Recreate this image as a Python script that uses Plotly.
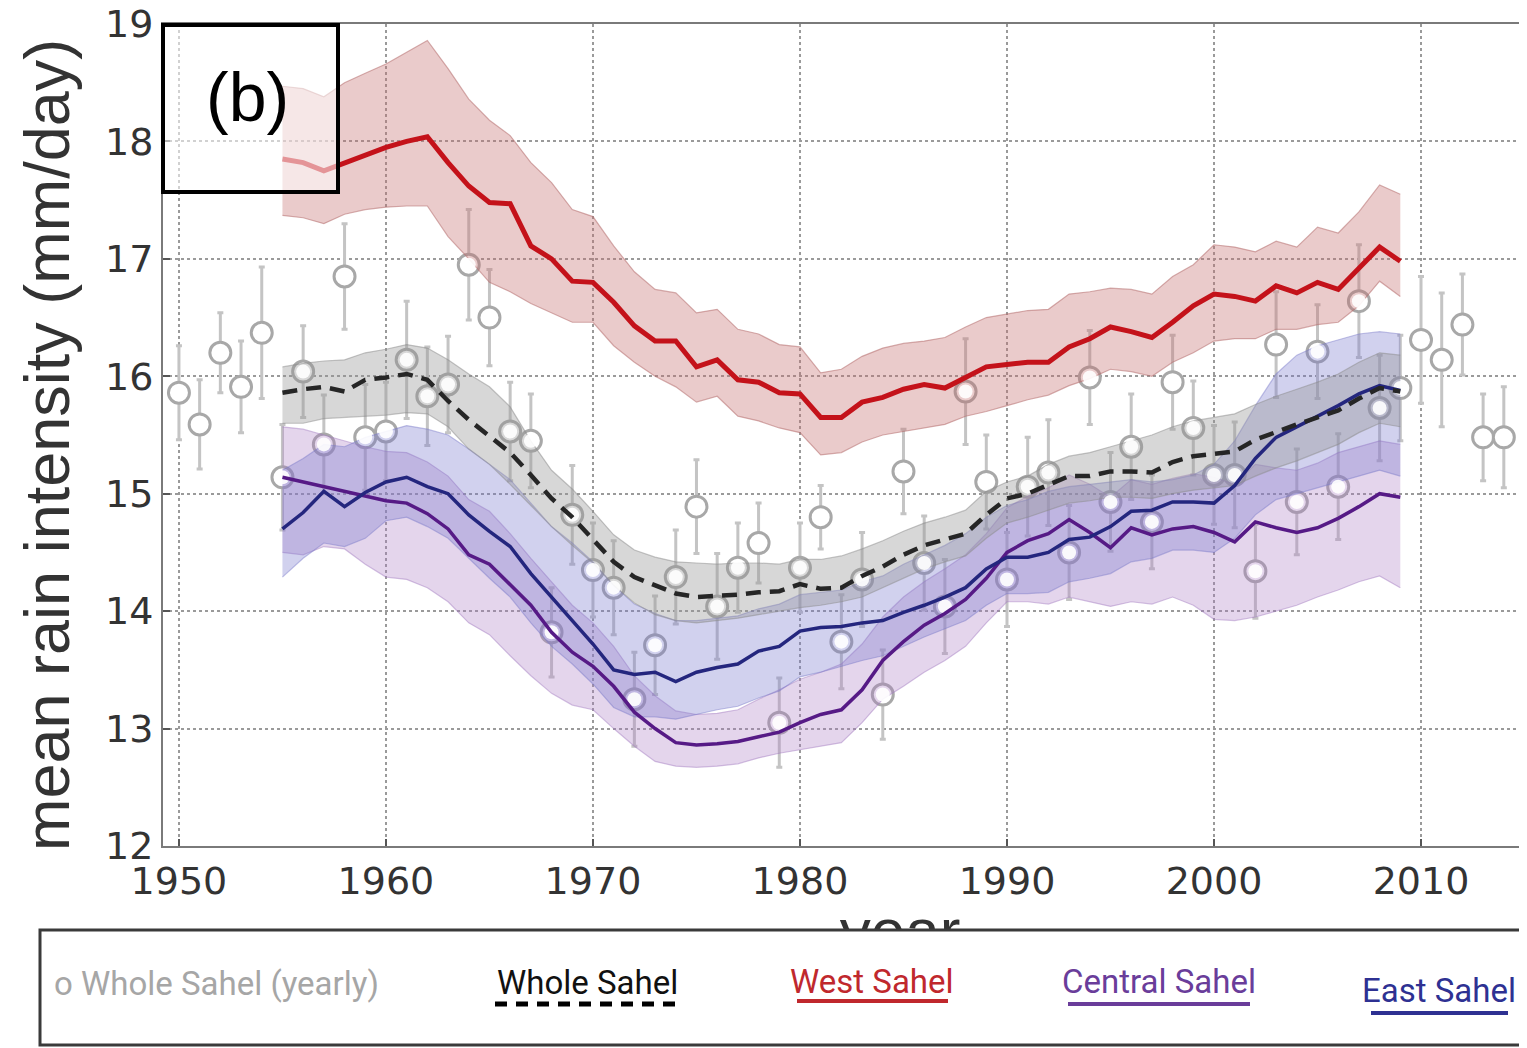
import plotly.graph_objects as go

# The page draws the figure 8 px in from the top-left corner, so all target pixel
# positions are mapped through OFF.
OFF = 8
FW, FH = 1519, 1040

# ---------------- data ----------------
yearly_years = list(range(1950, 2015))
yearly_vals = [15.86, 15.59, 16.20, 15.91, 16.37, 15.14, 16.04, 15.42, 16.85, 15.48,
               15.53, 16.14, 15.83, 15.93, 16.95, 16.50, 15.53, 15.45, 13.82, 14.82,
               14.35, 14.20, 13.25, 13.71, 14.29, 14.89, 14.04, 14.37, 14.58, 13.05,
               14.37, 14.80, 13.74, 14.27, 13.29, 15.19, 14.41, 14.04, 15.87, 15.10,
               14.27, 15.06, 15.18, 14.50, 15.99, 14.93, 15.40, 14.76, 15.95, 15.56,
               15.16, 15.16, 14.34, 16.27, 14.93, 16.21, 15.06, 16.64, 15.73, 15.90,
               16.31, 16.14, 16.44, 15.48, 15.48]
yearly_err = [0.40, 0.38, 0.34, 0.39, 0.56, 0.45, 0.39, 0.42, 0.45, 0.45,
              0.42, 0.50, 0.42, 0.41, 0.47, 0.41, 0.42, 0.40, 0.38, 0.42,
              0.40, 0.40, 0.40, 0.42, 0.40, 0.40, 0.45, 0.38, 0.34, 0.38,
              0.38, 0.27, 0.40, 0.40, 0.38, 0.36, 0.40, 0.40, 0.45, 0.40,
              0.40, 0.42, 0.45, 0.40, 0.40, 0.42, 0.45, 0.40, 0.40, 0.40,
              0.42, 0.45, 0.40, 0.45, 0.45, 0.40, 0.45, 0.48, 0.45, 0.45,
              0.54, 0.57, 0.43, 0.37, 0.43]

run_years = list(range(1955, 2010))

west_mean = [17.85, 17.82, 17.75, 17.82, 17.89, 17.95, 18.00, 18.04, 17.82, 17.62,
             17.48, 17.47, 17.11, 17.00, 16.81, 16.80, 16.63, 16.43, 16.30, 16.30,
             16.08, 16.14, 15.97, 15.95, 15.86, 15.85, 15.65, 15.65, 15.78, 15.82,
             15.89, 15.93, 15.90, 15.99, 16.08, 16.10, 16.12, 16.12, 16.25, 16.32,
             16.42, 16.38, 16.33, 16.46, 16.60, 16.70, 16.68, 16.64, 16.77, 16.71,
             16.80, 16.74, 16.92, 17.10, 16.98]
west_upper = [18.47, 18.45, 18.38, 18.50, 18.58, 18.66, 18.76, 18.86, 18.62, 18.36,
              18.18, 18.05, 17.82, 17.65, 17.42, 17.36, 17.11, 16.89, 16.74, 16.71,
              16.54, 16.57, 16.40, 16.36, 16.27, 16.25, 16.03, 16.06, 16.17, 16.24,
              16.28, 16.30, 16.33, 16.42, 16.50, 16.53, 16.56, 16.57, 16.70, 16.72,
              16.75, 16.74, 16.70, 16.85, 16.95, 17.12, 17.10, 17.06, 17.15, 17.10,
              17.27, 17.22, 17.40, 17.63, 17.55]
west_lower = [17.37, 17.35, 17.30, 17.38, 17.42, 17.44, 17.45, 17.45, 17.19, 17.00,
              16.80, 16.72, 16.62, 16.54, 16.46, 16.46, 16.26, 16.12, 16.00, 15.91,
              15.78, 15.83, 15.66, 15.62, 15.56, 15.52, 15.33, 15.35, 15.44, 15.50,
              15.53, 15.56, 15.59, 15.66, 15.70, 15.75, 15.80, 15.84, 15.92, 15.98,
              16.06, 16.04, 16.00, 16.12, 16.20, 16.30, 16.32, 16.32, 16.40, 16.40,
              16.44, 16.46, 16.60, 16.81, 16.68]

whole_mean = [15.86, 15.89, 15.91, 15.87, 15.97, 15.99, 16.02, 15.97, 15.79, 15.63,
              15.49, 15.35, 15.16, 14.96, 14.80, 14.61, 14.42, 14.29, 14.22, 14.15,
              14.12, 14.13, 14.14, 14.16, 14.17, 14.23, 14.19, 14.20, 14.30, 14.38,
              14.48, 14.56, 14.61, 14.66, 14.82, 14.96, 15.00, 15.08, 15.15, 15.15,
              15.19, 15.19, 15.18, 15.27, 15.32, 15.34, 15.36, 15.46, 15.53, 15.59,
              15.65, 15.71, 15.81, 15.90, 15.87]
whole_upper = [16.08, 16.11, 16.13, 16.14, 16.20, 16.23, 16.27, 16.24, 16.14, 16.02,
               15.91, 15.74, 15.45, 15.20, 15.04, 14.85, 14.65, 14.52, 14.46, 14.42,
               14.41, 14.40, 14.41, 14.41, 14.40, 14.44, 14.44, 14.47, 14.53, 14.60,
               14.68, 14.75, 14.80, 14.86, 15.02, 15.10, 15.15, 15.25, 15.32, 15.35,
               15.40, 15.45, 15.50, 15.57, 15.62, 15.65, 15.68, 15.76, 15.83, 15.89,
               15.95, 16.02, 16.12, 16.20, 16.18]
whole_lower = [15.60, 15.60, 15.64, 15.65, 15.66, 15.67, 15.69, 15.68, 15.57, 15.38,
               15.25, 15.08, 14.90, 14.72, 14.56, 14.41, 14.22, 14.07, 13.97, 13.92,
               13.90, 13.92, 13.94, 13.97, 14.00, 14.03, 14.05, 14.08, 14.12, 14.20,
               14.28, 14.36, 14.42, 14.47, 14.62, 14.75, 14.80, 14.86, 14.92, 14.94,
               14.97, 14.97, 14.96, 15.00, 15.03, 15.05, 15.07, 15.15, 15.22, 15.28,
               15.35, 15.42, 15.52, 15.60, 15.57]

central_mean = [15.14, 15.10, 15.06, 15.02, 14.98, 14.94, 14.92, 14.83, 14.70, 14.48,
                14.40, 14.22, 14.05, 13.82, 13.65, 13.53, 13.36, 13.14, 13.00, 12.88,
                12.86, 12.87, 12.89, 12.93, 12.97, 13.05, 13.12, 13.16, 13.33, 13.58,
                13.74, 13.88, 13.98, 14.10, 14.28, 14.50, 14.60, 14.66, 14.78, 14.67,
                14.54, 14.71, 14.65, 14.70, 14.72, 14.67, 14.59, 14.76, 14.71, 14.67,
                14.71, 14.79, 14.89, 15.00, 14.97]
central_upper = [15.57, 15.55, 15.50, 15.45, 15.40, 15.36, 15.35, 15.27, 15.15, 14.95,
                 14.85, 14.66, 14.45, 14.25, 14.05, 13.90, 13.70, 13.45, 13.28, 13.15,
                 13.12, 13.13, 13.16, 13.25, 13.33, 13.42, 13.48, 13.55, 13.72, 13.95,
                 14.12, 14.25, 14.36, 14.48, 14.66, 14.88, 14.98, 15.05, 15.16, 15.08,
                 14.97, 15.12, 15.08, 15.13, 15.17, 15.14, 15.08, 15.25, 15.22, 15.20,
                 15.26, 15.35, 15.40, 15.45, 15.42]
central_lower = [14.50, 14.48, 14.55, 14.53, 14.40, 14.29, 14.27, 14.20, 14.08, 13.90,
                 13.80, 13.62, 13.45, 13.30, 13.20, 13.16, 13.00, 12.85, 12.72, 12.68,
                 12.67, 12.68, 12.70, 12.75, 12.79, 12.82, 12.85, 12.88, 13.05, 13.25,
                 13.36, 13.48, 13.58, 13.70, 13.90, 14.08, 14.08, 14.06, 14.12, 14.08,
                 14.04, 14.08, 14.06, 14.12, 14.05, 13.93, 13.92, 13.95, 14.00, 14.05,
                 14.12, 14.18, 14.25, 14.30, 14.20]

east_mean = [14.70, 14.84, 15.02, 14.89, 15.01, 15.10, 15.14, 15.06, 15.00, 14.82,
             14.68, 14.55, 14.32, 14.12, 13.92, 13.72, 13.50, 13.46, 13.48, 13.40,
             13.48, 13.52, 13.55, 13.66, 13.70, 13.83, 13.86, 13.87, 13.90, 13.92,
             13.99, 14.05, 14.12, 14.20, 14.36, 14.46, 14.46, 14.50, 14.61, 14.63,
             14.72, 14.85, 14.86, 14.93, 14.93, 14.92, 15.07, 15.30, 15.48, 15.57,
             15.66, 15.75, 15.85, 15.92, 15.88]
east_upper = [15.20, 15.30, 15.42, 15.40, 15.48, 15.53, 15.58, 15.55, 15.50, 15.38,
              15.25, 15.12, 14.92, 14.72, 14.58, 14.42, 14.22, 14.06, 13.98, 13.92,
              13.92, 13.94, 13.96, 14.02, 14.06, 14.14, 14.16, 14.18, 14.25, 14.30,
              14.40, 14.48, 14.56, 14.66, 14.80, 14.90, 14.95, 15.02, 15.06, 15.08,
              15.10, 15.12, 15.10, 15.12, 15.16, 15.25, 15.45, 15.75, 16.02, 16.18,
              16.26, 16.31, 16.36, 16.38, 16.36]
east_lower = [14.29, 14.45, 14.58, 14.55, 14.62, 14.77, 14.80, 14.72, 14.62, 14.45,
              14.28, 14.12, 13.90, 13.70, 13.55, 13.38, 13.18, 13.10, 13.10, 13.08,
              13.12, 13.16, 13.19, 13.26, 13.32, 13.44, 13.48, 13.53, 13.58, 13.62,
              13.70, 13.78, 13.85, 13.92, 14.05, 14.15, 14.15, 14.16, 14.25, 14.28,
              14.32, 14.42, 14.45, 14.52, 14.52, 14.50, 14.62, 14.82, 14.95, 15.00,
              15.05, 15.10, 15.15, 15.20, 15.15]

x_ticks = [1950, 1960, 1970, 1980, 1990, 2000, 2010]
y_ticks = [12, 13, 14, 15, 16, 17, 18, 19]

legend_labels = ["o Whole Sahel (yearly)", "Whole Sahel", "West Sahel", "Central Sahel", "East Sahel"]

for arr in [west_mean, west_upper, west_lower, whole_mean, whole_upper, whole_lower,
            central_mean, central_upper, central_lower, east_mean, east_upper, east_lower]:
    assert len(arr) == len(run_years), len(arr)
assert len(yearly_vals) == len(yearly_years) == len(yearly_err)

# ---------------- styling ----------------
RED = "#c4121a"
NAVY = "#24267e"
PURPLE = "#561a86"


def px(x):
    return (x - OFF) / FW


def py(y):
    return 1 - (y - OFF) / FH


fig = go.Figure()

# yearly points below the bands (outlined)
fig.add_trace(go.Scatter(
    x=yearly_years, y=yearly_vals, mode="markers",
    error_y=dict(type="data", array=yearly_err, color="#c4c4c4", thickness=3, width=3),
    marker=dict(size=21, color="white", line=dict(color="#a8a8a8", width=3)),
    showlegend=False, hoverinfo="skip"))


def band(upper, lower, fill, edge):
    fig.add_trace(go.Scatter(x=run_years, y=upper, mode="lines",
                             line=dict(color=edge, width=1.2), showlegend=False, hoverinfo="skip"))
    fig.add_trace(go.Scatter(x=run_years, y=lower, mode="lines", fill="tonexty", fillcolor=fill,
                             line=dict(color=edge, width=1.2), showlegend=False, hoverinfo="skip"))


band(west_upper, west_lower, "rgba(196,110,110,0.36)", "rgba(180,110,110,0.55)")
band(central_upper, central_lower, "rgba(170,125,195,0.32)", "rgba(160,120,190,0.45)")
band(east_upper, east_lower, "rgba(120,120,205,0.34)", "rgba(120,120,200,0.45)")
band(whole_upper, whole_lower, "rgba(150,150,150,0.38)", "rgba(140,140,140,0.5)")

# white fills of yearly points above bands
fig.add_trace(go.Scatter(
    x=yearly_years, y=yearly_vals, mode="markers",
    marker=dict(size=14, color="rgba(255,255,255,0.9)", line=dict(width=0)),
    showlegend=False, hoverinfo="skip"))

# mean lines
fig.add_trace(go.Scatter(x=run_years, y=central_mean, mode="lines",
                         line=dict(color=PURPLE, width=3.5), showlegend=False))
fig.add_trace(go.Scatter(x=run_years, y=east_mean, mode="lines",
                         line=dict(color=NAVY, width=3.5), showlegend=False))
fig.add_trace(go.Scatter(x=run_years, y=whole_mean, mode="lines",
                         line=dict(color="#262626", width=4.5, dash="15px,9px"), showlegend=False))
fig.add_trace(go.Scatter(x=run_years, y=west_mean, mode="lines",
                         line=dict(color=RED, width=5), showlegend=False))

# clipped x-axis title ("year" hidden behind legend box)
fig.add_trace(go.Scatter(x=[px(900)], y=[-0.12], mode="text", text=["year"],
                         textfont=dict(family="Liberation Sans, Arial", size=62, color="#333"),
                         textposition="middle center", cliponaxis=True,
                         xaxis="x2", yaxis="y2", showlegend=False, hoverinfo="skip"))

axis_common = dict(
    showgrid=True, gridcolor="#9a9a9a", gridwidth=2, griddash="dot",
    ticks="inside", ticklen=7, tickwidth=2, tickcolor="#555",
    showline=True, mirror=True, linecolor="#7a7a7a", linewidth=2,
    tickfont=dict(family="DejaVu Sans", size=38, color="#333"),
    zeroline=False, automargin=False, ticklabeloverflow="allow",
)

fig.update_layout(
    template="none",
    width=FW, height=FH,
    margin=dict(l=0, r=0, t=0, b=0, pad=0),
    paper_bgcolor="white", plot_bgcolor="white",
    showlegend=False,
    xaxis=dict(domain=[px(163), px(1521)], range=[1949.23, 2014.83],
               tickvals=x_ticks, ticktext=[str(v) for v in x_ticks], **axis_common),
    yaxis=dict(domain=[py(846), py(24)], range=[12, 19],
               tickvals=y_ticks, ticktext=[str(v) for v in y_ticks], **axis_common),
    xaxis2=dict(domain=[0, 1], range=[0, 1], visible=False, anchor="y2", automargin=False),
    yaxis2=dict(domain=[py(930), py(880)], range=[0, 1], visible=False, anchor="x2", automargin=False),
)

shapes = []
# panel label box
shapes.append(dict(type="rect", xref="paper", yref="paper",
                   x0=px(163), x1=px(338), y0=py(192), y1=py(25),
                   fillcolor="rgba(255,255,255,0.55)", line=dict(color="black", width=4), layer="above"))
# legend box
shapes.append(dict(type="rect", xref="paper", yref="paper",
                   x0=px(40), x1=px(1540), y0=py(1045), y1=py(930),
                   fillcolor="white", line=dict(color="#3a3a3a", width=3), layer="above"))
# legend underlines
shapes.append(dict(type="line", xref="paper", yref="paper", x0=px(495), x1=px(684), y0=py(1004), y1=py(1004),
                   line=dict(color="black", width=5, dash="12px,9px"), layer="above"))
shapes.append(dict(type="line", xref="paper", yref="paper", x0=px(797), x1=px(948), y0=py(1001), y1=py(1001),
                   line=dict(color="#c0282d", width=4), layer="above"))
shapes.append(dict(type="line", xref="paper", yref="paper", x0=px(1068), x1=px(1250), y0=py(1004), y1=py(1004),
                   line=dict(color="#6a3d9a", width=4), layer="above"))
shapes.append(dict(type="line", xref="paper", yref="paper", x0=px(1371), x1=px(1508), y0=py(1013), y1=py(1013),
                   line=dict(color="#2e3192", width=4), layer="above"))
fig.update_layout(shapes=shapes)

LEGFONT = "Roboto, Liberation Sans"
ann = []
ann.append(dict(text="(b)", x=px(247), y=py(97), xref="paper", yref="paper", showarrow=False,
                xanchor="center", yanchor="middle",
                font=dict(family="Liberation Sans, Arial", size=68, color="black")))
ann.append(dict(text="mean rain intensity (mm/day)", x=px(47), y=py(445), xref="paper", yref="paper",
                showarrow=False, textangle=-90, xanchor="center", yanchor="middle",
                font=dict(family="Liberation Sans, Arial", size=63, color="#333")))
leg_specs = [
    (legend_labels[0], 62, 983, "#a6a6a6", 372),
    (legend_labels[1], 497, 982, "#111111", 678),
    (legend_labels[2], 797, 981, "#c0282d", 947),
    (legend_labels[3], 1068, 981, "#6a3d9a", 1250),
    (legend_labels[4], 1371, 990, "#2e3192", 1506),
]
for txt, x0, yc, col, x1 in leg_specs:
    ann.append(dict(text=txt, x=px((x0 + x1) / 2), y=py(yc), xref="paper", yref="paper", showarrow=False,
                    xanchor="center", yanchor="middle",
                    font=dict(family=LEGFONT, size=33, color=col)))
fig.update_layout(annotations=ann)

fig.write_html("out.html")
